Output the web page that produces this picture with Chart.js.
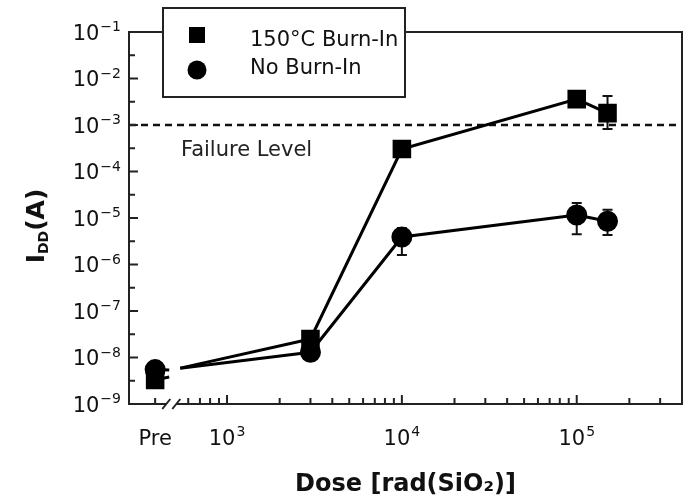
<!DOCTYPE html>
<html lang="en">
<head>
  <meta charset="UTF-8">
  <title>IDD vs Dose</title>
  <script src="https://cdn.jsdelivr.net/npm/chart.js"></script>
  <style>
    html, body { margin: 0; padding: 0; background: #ffffff; }
  </style>
</head>
<body>
  <canvas id="chartDose" width="691" height="503"></canvas>
  <script>
    // dose in rad(SiO2); the first point is the "Pre" column left of the axis break
    const doses = [388, 3000, 10000, 100000, 150000];
    const burnIn = [3.3e-9, 2.5e-8, 3.05e-4, 3.6e-3, 1.8e-3];
    const noBurnIn = [5.5e-9, 1.3e-8, 3.9e-6, 1.16e-5, 8.5e-6];
    // error bars, null where none shows
    const burnInLow = [null, null, null, null, 8.2e-4];
    const burnInHigh = [null, null, null, null, 4.2e-3];
    const noBurnInLow = [null, null, 1.6e-6, 4.5e-6, 4.3e-6];
    const noBurnInHigh = [null, null, 6.1e-6, 2.1e-5, 1.5e-5];
    // the Pre -> 3e3 lines stop before the axis break and restart from one point after it
    const leadDoses = [467, 540];
    const burnInLead = [3.8e-9, 5.9e-9];
    const noBurnInLead = [5.4e-9, 5.9e-9];
    const failureLevel = 1e-3;

    const xTicks = [388, 1e3, 1e4, 1e5];
    const xTickLabels = [['Pre', ''], ['10', '3'], ['10', '4'], ['10', '5']];
    const xMinorTicks = [600, 700, 800, 900, 2e3, 3e3, 4e3, 5e3, 6e3, 7e3, 8e3, 9e3,
      2e4, 3e4, 4e4, 5e4, 6e4, 7e4, 8e4, 9e4, 2e5, 3e5];
    const xBreak = 480;
    const yTicks = [1e-9, 1e-8, 1e-7, 1e-6, 1e-5, 1e-4, 1e-3, 1e-2, 1e-1];
    const yTickExps = ['−9', '−8', '−7', '−6', '−5', '−4', '−3', '−2', '−1'];
    const yMinorTicks = [3.16e-9, 3.16e-8, 3.16e-7, 3.16e-6, 3.16e-5, 3.16e-4, 3.16e-3, 3.16e-2];

    const FONT = "Verdana, 'DejaVu Sans', sans-serif";
    const INK = '#111';

    const drawMarker = (ctx, style, cx, cy) => {
      ctx.beginPath();
      if (style === 'rect') {
        ctx.rect(cx - 8, cy - 8, 16, 16);
      } else {
        ctx.arc(cx, cy, 9.5, 0, Math.PI * 2);
      }
      ctx.fill();
    };

    // "10" with a raised exponent, py = vertical centre of the digits
    const drawPow = (ctx, base, exp, px, py, align) => {
      ctx.font = `21px ${FONT}`;
      const wb = ctx.measureText(base).width;
      ctx.font = `14px ${FONT}`;
      const we = exp ? ctx.measureText(exp).width + 1 : 0;
      const x0 = align === 'right' ? px - wb - we : px - (wb + we) / 2;
      ctx.textAlign = 'left';
      ctx.textBaseline = 'alphabetic';
      ctx.font = `21px ${FONT}`;
      ctx.fillText(base, x0, py + 7.5);
      if (exp) {
        ctx.font = `14px ${FONT}`;
        ctx.fillText(exp, x0 + wb + 1, py - 1);
      }
    };

    const extrasPlugin = {
      id: 'extras',
      beforeDatasetsDraw(chart) {
        const { ctx, chartArea: a, scales: { x, y } } = chart;
        ctx.save();
        // failure level
        const fy = y.getPixelForValue(failureLevel);
        ctx.strokeStyle = INK;
        ctx.lineWidth = 2.5;
        ctx.setLineDash([7, 5]);
        ctx.beginPath();
        ctx.moveTo(a.left, fy);
        ctx.lineTo(a.right, fy);
        ctx.stroke();
        ctx.setLineDash([]);
        ctx.fillStyle = '#222';
        ctx.font = `21px ${FONT}`;
        ctx.textBaseline = 'middle';
        ctx.fillText('Failure Level', a.left + 52, fy + 26);

        // error bars
        const bars = [[burnInLow, burnInHigh], [noBurnInLow, noBurnInHigh]];
        ctx.lineWidth = 2;
        bars.forEach(([lo, hi]) => {
          doses.forEach((d, i) => {
            if (lo[i] == null) return;
            const px = x.getPixelForValue(d);
            const p1 = y.getPixelForValue(lo[i]);
            const p2 = y.getPixelForValue(hi[i]);
            ctx.beginPath();
            ctx.moveTo(px, p1); ctx.lineTo(px, p2);
            ctx.moveTo(px - 5, p1); ctx.lineTo(px + 5, p1);
            ctx.moveTo(px - 5, p2); ctx.lineTo(px + 5, p2);
            ctx.stroke();
          });
        });
        ctx.restore();
      },
      afterDatasetsDraw(chart) {
        const { ctx, chartArea: a, scales: { x, y } } = chart;
        const bx = x.getPixelForValue(xBreak);
        ctx.save();

        // frame
        ctx.strokeStyle = '#222';
        ctx.lineWidth = 2;
        ctx.strokeRect(a.left, a.top, a.right - a.left, a.bottom - a.top);

        // inward ticks
        ctx.beginPath();
        yTicks.forEach(v => {
          const py = y.getPixelForValue(v);
          ctx.moveTo(a.left, py); ctx.lineTo(a.left + 9, py);
        });
        yMinorTicks.forEach(v => {
          const py = y.getPixelForValue(v);
          ctx.moveTo(a.left, py); ctx.lineTo(a.left + 6, py);
        });
        xTicks.forEach((v, i) => {
          const px = x.getPixelForValue(v);
          ctx.moveTo(px, a.bottom); ctx.lineTo(px, a.bottom - (i === 0 ? 6 : 9));
        });
        xMinorTicks.forEach(v => {
          const px = x.getPixelForValue(v);
          ctx.moveTo(px, a.bottom); ctx.lineTo(px, a.bottom - 6);
        });
        ctx.stroke();

        // axis break marks
        ctx.fillStyle = '#fff';
        ctx.fillRect(bx - 5, a.bottom - 2, 10, 4);
        ctx.beginPath();
        [-5, 5].forEach(dx => {
          ctx.moveTo(bx + dx - 4, a.bottom + 5);
          ctx.lineTo(bx + dx + 4, a.bottom - 5);
        });
        ctx.stroke();

        // tick labels
        ctx.fillStyle = INK;
        yTicks.forEach((v, i) => drawPow(ctx, '10', yTickExps[i], a.left - 8, y.getPixelForValue(v), 'right'));
        xTicks.forEach((v, i) => drawPow(ctx, xTickLabels[i][0], xTickLabels[i][1], x.getPixelForValue(v), a.bottom + 33, 'center'));

        // legend box
        const lx = a.left + 34, ly = a.top - 24;
        ctx.fillStyle = '#fff';
        ctx.fillRect(lx, ly, 242, 89);
        ctx.strokeRect(lx, ly, 242, 89);
        ctx.fillStyle = '#000';
        drawMarker(ctx, 'rect', lx + 34, ly + 27);
        drawMarker(ctx, 'circle', lx + 34, ly + 62);
        ctx.fillStyle = INK;
        ctx.font = `21px ${FONT}`;
        ctx.textBaseline = 'middle';
        ctx.fillText('150°C Burn-In', lx + 87, ly + 33);
        ctx.fillText('No Burn-In', lx + 87, ly + 61);

        // y title with subscript
        ctx.translate(35, (a.top + a.bottom) / 2 + 8);
        ctx.rotate(-Math.PI / 2);
        ctx.textBaseline = 'alphabetic';
        const big = `bold 25px ${FONT}`, small = `bold 14px ${FONT}`;
        ctx.font = big;
        const wI = ctx.measureText('I').width, wA = ctx.measureText('(A)').width;
        ctx.font = small;
        const wD = ctx.measureText('DD').width;
        let tx = -(wI + wD + wA) / 2;
        ctx.font = big;
        ctx.fillText('I', tx, 9);
        tx += wI;
        ctx.font = small;
        ctx.fillText('DD', tx, 13);
        tx += wD;
        ctx.font = big;
        ctx.fillText('(A)', tx, 9);
        ctx.restore();
      }
    };

    const lineStyle = {
      borderColor: '#000',
      backgroundColor: '#000',
      borderWidth: 3,
      tension: 0
    };

    const ctxDose = document.getElementById('chartDose');
    const doseChart = new Chart(ctxDose, {
      type: 'line',
      data: {
        datasets: [{
          ...lineStyle,
          label: '150°C Burn-In',
          data: doses.map((d, i) => ({ x: d, y: burnIn[i] })),
          pointStyle: 'rect',
          pointRadius: 11,
          pointHoverRadius: 11,
          segment: { borderColor: c => c.p0DataIndex === 0 ? 'rgba(0,0,0,0)' : undefined }
        }, {
          ...lineStyle,
          label: 'No Burn-In',
          data: doses.map((d, i) => ({ x: d, y: noBurnIn[i] })),
          pointStyle: 'circle',
          pointRadius: 9,
          pointHoverRadius: 9,
          segment: { borderColor: c => c.p0DataIndex === 0 ? 'rgba(0,0,0,0)' : undefined }
        }, {
          ...lineStyle,
          label: 'lead-in burn-in',
          pointRadius: 0,
          spanGaps: false,
          data: [
            { x: doses[0], y: burnIn[0] },
            { x: leadDoses[0], y: burnInLead[0] },
            { x: leadDoses[0], y: null },
            { x: leadDoses[1], y: burnInLead[1] },
            { x: doses[1], y: burnIn[1] }
          ]
        }, {
          ...lineStyle,
          label: 'lead-in no burn-in',
          pointRadius: 0,
          spanGaps: false,
          data: [
            { x: doses[0], y: noBurnIn[0] },
            { x: leadDoses[0], y: noBurnInLead[0] },
            { x: leadDoses[0], y: null },
            { x: leadDoses[1], y: noBurnInLead[1] },
            { x: doses[1], y: noBurnIn[1] }
          ]
        }]
      },
      options: {
        responsive: false,
        animation: false,
        devicePixelRatio: 1,
        events: [],
        layout: { autoPadding: false, padding: { top: 32, right: 9, left: 0, bottom: 0 } },
        scales: {
          x: {
            type: 'logarithmic',
            min: 275,
            max: 4e5,
            grid: { display: false, drawTicks: false },
            border: { display: false },
            afterBuildTicks: s => { s.ticks = xTicks.map(v => ({ value: v })); },
            afterFit: s => { s.height = 99; },
            ticks: { display: false },
            title: {
              display: true,
              text: 'Dose [rad(SiO₂)]',
              color: INK,
              font: { family: FONT, size: 24, weight: 'bold' },
              padding: { top: 0, bottom: 4 }
            }
          },
          y: {
            type: 'logarithmic',
            min: 1e-9,
            max: 1e-1,
            grid: { display: false, drawTicks: false },
            border: { display: false },
            afterBuildTicks: s => { s.ticks = yTicks.map(v => ({ value: v })); },
            afterFit: s => { s.width = 129; },
            ticks: { display: false }
          }
        },
        plugins: {
          legend: { display: false },
          tooltip: { enabled: false }
        }
      },
      plugins: [extrasPlugin]
    });
  </script>
</body>
</html>
